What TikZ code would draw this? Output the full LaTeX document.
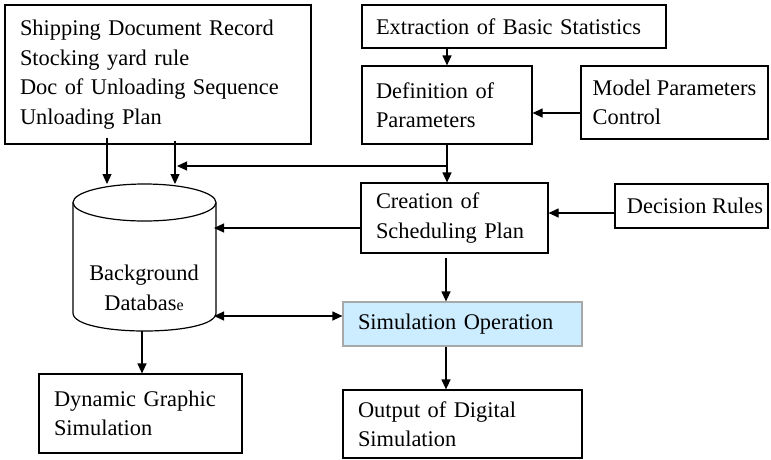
\documentclass[tikz,border=0pt]{standalone}
\usepackage{fontspec}
\setmainfont{Liberation Serif}
\usetikzlibrary{arrows.meta}
\definecolor{simfill}{HTML}{CCECFF}
\definecolor{simline}{HTML}{A8A8A8}
\begin{document}
\begin{tikzpicture}[x=1pt,y=-1pt,
  txt/.style={font=\fontsize{22.4}{29.5}\selectfont},
  box/.style={txt, draw, line width=1.2pt, rectangle, inner xsep=15pt, inner ysep=0pt, align=left},
  edge/.style={line width=1.2pt},
  arr/.style={edge, -{Triangle[length=10pt,width=9pt]}},
  darr/.style={edge, {Triangle[length=10pt,width=9pt]}-{Triangle[length=10pt,width=9pt]}}]
\useasboundingbox (0,0) rectangle (771,459);

% boxes
\node[box, text width=276pt, minimum height=139pt] (ship) at (158,74.5)
  {Shipping Document Record\\Stocking yard rule\\Doc of Unloading Sequence\\Unloading Plan};
\node[box, inner xsep=14pt, text width=276pt, minimum height=43pt] (stats) at (514,26.5)
  {Extraction of Basic Statistics};
\node[box, inner xsep=14pt, text width=142pt, minimum height=78pt] (defn) at (447,105)
  {Definition of\\Parameters};
\node[box, inner xsep=6pt, minimum width=187pt, minimum height=73pt] (model) at (674.5,102.5)
  {Model Parameters\\Control};
\node[box, text width=157pt, minimum height=70pt] (create) at (454.5,218)
  {\raisebox{-5pt}{Creation of}\\\raisebox{-5pt}{Scheduling Plan}};
\node[box, inner xsep=0pt, minimum width=153pt, minimum height=44pt] (rules) at (691.5,206)
  {\hspace*{7pt}Decision Rules};
\node[box, draw=simline, fill=simfill, text width=209pt, minimum height=44pt] (sim) at (462.5,324)
  {Simulation Operation};
\node[box, text width=209pt, minimum height=68pt] (out) at (462.5,424)
  {Output of Digital\\Simulation};
\node[box, text width=173pt, minimum height=79pt] (dyn) at (140.5,413.5)
  {Dynamic Graphic\\Simulation};

% database cylinder
\coordinate (dbtop) at (144.5,184);
\coordinate (dbNW) at (73,202.5);
\coordinate (dbNE) at (216,202.5);
\coordinate (dbSW) at (73,313);
\coordinate (dbSE) at (216,313);
\coordinate (dbbot) at (142,331);
\draw[edge] (144.5,202.5) ellipse [x radius=71.5, y radius=18.5];
\draw[edge] (dbNW) -- (dbSW) .. controls (73,337) and (216,337) .. (dbSE) -- (dbNE);
\node[txt, align=center] (db) at (144,288)
  {Background\\Databas{\fontsize{16}{16}\selectfont e}};

% connectors
\draw[arr] ([xshift=-51pt,yshift=7pt]ship.south) coordinate (s1) -- (s1 |- dbtop);
\draw[arr] ([xshift=17pt,yshift=4pt]ship.south) coordinate (s2) -- (s2 |- dbtop);
\draw[arr] (stats.south -| defn.north) -- (defn.north);
\coordinate (mport) at ([yshift=-10.5pt]model.west);
\draw[arr] (mport) -- (mport -| defn.east);
\draw[arr] (defn.south) -- (defn.south |- create.north);
\coordinate (fb) at (447,166);
\draw[arr] (fb) -- ([xshift=2pt]s2 |- fb);
\coordinate (rport) at ([yshift=-7pt]rules.west);
\draw[arr] (rport) -- (rport -| create.east);
\coordinate (cport) at ([yshift=-10pt]create.west);
\draw[arr] (cport) -- (cport -| 214,0);
\coordinate (dbport) at (214,316);
\draw[darr] (dbport) -- (dbport -| sim.west);
\draw[arr] ([xshift=-8.5pt,yshift=-4pt]create.south) coordinate (c2) -- (c2 |- sim.north);
\draw[arr] (c2 |- sim.south) -- (c2 |- out.north);
\draw[arr] (dbbot) -- (dbbot |- dyn.north);
\end{tikzpicture}
\end{document}
